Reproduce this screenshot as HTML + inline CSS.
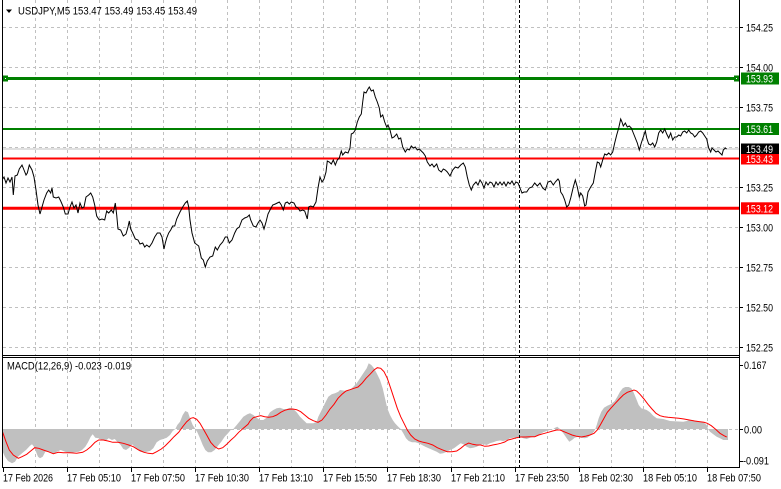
<!DOCTYPE html>
<html><head><meta charset="utf-8"><style>
html,body{margin:0;padding:0;background:#fff;}
svg{display:block;}
text{font-family:"Liberation Sans",sans-serif;font-size:11px;fill:#000;}
</style></head><body>
<svg width="781" height="489" viewBox="0 0 781 489" xmlns="http://www.w3.org/2000/svg">
<rect x="0" y="0" width="781" height="489" fill="#fff"/>
<!-- grid verticals -->
<g stroke="#c0c0c0" stroke-width="1" stroke-dasharray="3,3">
<path d="M35.5 0V355M67.5 0V355M99.5 0V355M131.5 0V355M163.5 0V355M195.5 0V355M227.5 0V355M259.5 0V355M291.5 0V355M323.5 0V355M355.5 0V355M387.5 0V355M419.5 0V355M451.5 0V355M483.5 0V355M515.5 0V355M547.5 0V355M579.5 0V355M611.5 0V355M643.5 0V355M675.5 0V355M707.5 0V355"/>
<path d="M35.5 358V467M67.5 358V467M99.5 358V467M131.5 358V467M163.5 358V467M195.5 358V467M227.5 358V467M259.5 358V467M291.5 358V467M323.5 358V467M355.5 358V467M387.5 358V467M419.5 358V467M451.5 358V467M483.5 358V467M515.5 358V467M547.5 358V467M579.5 358V467M611.5 358V467M643.5 358V467M675.5 358V467M707.5 358V467"/>
<path d="M3 27.5H739M3 67.5H739M3 107.5H739M3 147.5H739M3 187.5H739M3 227.5H739M3 267.5H739M3 307.5H739M3 347.5H739"/>
<path d="M3 429.5H739"/>
</g>
<!-- current price line -->
<path d="M3 149H739" stroke="#c0c0c0" stroke-width="1"/>
<!-- level lines -->
<path d="M3 78.5H739" stroke="#008000" stroke-width="3"/>
<path d="M3 129H739" stroke="#008000" stroke-width="2"/>
<path d="M3 158.5H739" stroke="#ff0000" stroke-width="2"/>
<path d="M3 208.3H739" stroke="#ff0000" stroke-width="3"/>
<rect x="3" y="75.5" width="5" height="6" fill="#008000"/>
<rect x="5" y="78" width="1" height="1" fill="#fff"/>
<rect x="734" y="75.5" width="5" height="6" fill="#008000"/>
<rect x="736" y="78" width="1" height="1" fill="#fff"/>
<!-- price -->
<polyline fill="none" stroke="#000" stroke-width="1" points="2.7,179 4,177 6,183 8,178 10,182 12,177 13.3,195 15,176 17.3,175 19.3,169 22,165 24,170 26,175 27.3,173 29.3,165 32,170 34,177 36,190 38,205 40,214 42,207 44,200 46.7,193 48.7,190 50.7,193 52,188 53.3,197 56,198 58.7,197 60.7,201 63.3,207 65.3,214 68,214 70,207 72,202 74,208 76,205 78,213 80,203 82,208 84,207 86,197 88.7,195 90.7,193 92.7,197 94.7,205 96.7,216 99.3,220 102,219 104.7,220 106.7,211 108.7,213 111.3,210 113.3,213 115.3,203 116.7,215 118,229 120.7,230 123.3,236 126,234 128,227 129.3,221 130.7,229 132.7,233 135.3,239 138,240 140,244 142.7,243 144.7,247 146.7,245 149.3,247 152,243 154.7,237 157.3,233 160,233 162,237 164,249 165.3,243 166.7,238 168.7,233 170.7,230 172.7,226 174.7,226 176.7,219 180,212 182.7,207 185.3,203 187.3,201 188.7,207 190,220 192,233 194.7,243 198.7,246 201.3,258 203.3,260 205.3,267 207.3,261 210,257 212.7,256 215.3,247 217.3,250 220,245 222.7,242 225.3,237 227.3,237 229.3,243 232,240 234.7,233 236.7,229 239.3,227 242,220 244.7,218 247.3,217 249.3,215 250.7,220 253.3,226 256,227 258,223 260,220 262,223 264,229 266,222 268,214 270,210 272.7,205 275.3,204 277.3,203 279.3,202 281.3,205 283.3,210 285.3,203 287.3,202 289.3,204 291.3,202 294,203 296,207 298,208 300,211 302.7,210 304.7,211 306,215 307.3,219 308.7,207 310.7,206 313.3,207 316,202 318,188 320,177 322,182 324,179 326,172 327.3,161 329.3,162 331.3,164 333.3,160 335.3,165 337.3,160 339.3,158 341.3,151 342.7,155 345.3,152 348,153 350,148 351.3,134 353.3,133 355.3,130 357.3,122 359.3,117 361.3,114 362.7,102 364,92 366,93 368,89 369.3,87 371.3,91 373.3,90 375.3,97 377.3,102 379.3,108 380.7,117 382.7,115 384.7,122 386.7,127 388,125 390,130 392,138 394,137 396.7,134 398.7,139 400.7,138 402.7,147 405.3,152 407.3,149 409.3,150 411.3,146 413.3,148 415.3,147 417.3,150 419.3,149 421.3,151 423.3,153 425.3,156 427.3,162 430,166 432,164 434,167 436.7,164 438.7,170 441.3,172 443.3,169 445.3,170 447.3,172 450,176 452.7,170 455.3,167 458,168 460.7,165 463.3,163 465.3,167 467.3,177 469.3,185 471.3,190 473.3,185 476,182 478,185 480,180 482,183 484,188 486,182 488,185 490,182 492,183 494,187 496,182 498,185 500,182 502,185 504,182 506,186 508,182 510,184 512,181 514,185 516,182 518,183 520,188 522,193 524,192 526.7,192 529.3,188 532,187 534.7,183 537.3,186 540,183 542.7,188 545.3,190 548,182 550.7,181 553.3,185 555.3,182 558,179 559.3,181 560.7,192 562.7,195 564.7,200 566.7,207 568.7,205 570.7,198 573.3,187 575.3,180 577.3,187 579.3,197 580.7,193 582.7,196 584.7,206 586,205 588,192 590.7,187 593.3,183 595.3,172 597.3,162 599.3,163 600.7,167 602.7,160 604.7,154 606.7,155 608.7,153 610.7,155 612.7,152 614.7,143 616.7,135 618.7,128 620.7,119 622,122 623.3,126 625.3,123 627.3,127 629.3,126 631.3,128 633.3,133 635.3,138 637.3,143 639.3,150 641.3,143 643.3,137 645.3,131 646.7,138 648.7,144 650.7,145 652.7,143 654.7,147 656.7,142 658.7,133 660.7,130 662.7,133 664.7,129 666.7,134 668.7,138 670.7,133 672.7,140 674.7,137 676.7,137 678.7,135 680.7,136 682.7,132 684.7,131 686.7,133 688.7,130 690.7,133 692.7,134 694.7,137 696.7,135 698.7,132 700.7,131 702.7,133 704.7,136 706.7,139 708.7,148 710.7,152 712,148 714,150 716,152 718,151 720,153 722,155 723.3,150 725.3,148 726.7,149"/>
<!-- MACD histogram -->
<polygon fill="#c0c0c0" points="2.7,429 2.7,451.7 5,456.7 8,461 12,463.3 15,461.7 18,456.7 22,453.3 26,450 30,445.7 32,444.3 34,446.7 36,451.7 38,456.7 40,458.3 42.7,456.7 45.3,451.7 50,451.7 53.3,454.3 56.7,451.7 60.7,450 65,451.7 70,453.3 74,452.3 78.7,451.7 82,450 85.3,446.7 88,442.3 90.7,436.7 92.7,434.3 95.3,437.7 98.7,438.3 102,440 105.3,441 108.7,438.3 112,440 114.7,439 117.3,441.7 120.7,445 123.3,449 126,450 129.3,447.7 132,444.3 134.7,446.7 137.3,449 140,451.7 143.3,452.3 146.7,451.7 150,451 153.3,448.3 156.7,442.3 160,440 163.3,439 166.7,437.7 170,435 172.7,431 175.3,429 177.3,425 180,421.7 182.7,415 185.3,411 188,412.3 190,418.3 192.7,425 195.3,429 197.3,432.3 200,438.3 202.7,445 205.3,450 208,452.3 211.3,452.3 214.7,450 218,445.7 221.3,441.7 224.7,436.7 228,433.3 230.7,430 233.3,429 236.7,425 240,421 243.3,416.7 247.3,414.3 250,413.3 253.3,415 256.7,417.7 260,420 263.3,420 266.7,417.7 270,412.3 273.3,410 276.7,408.3 280,407.7 283.3,409 286.7,409 290,407.7 293.3,409 296.7,412.3 300,416.7 303.3,420 306.7,423.3 313.3,423.3 316.7,421.7 318.3,416.7 321.7,410 325,403.3 328.3,396.7 331.7,394.3 335,393.3 338.3,391.7 340,390 346.7,391 350,390 353.3,386.7 356.7,383.3 360,378.3 363.3,373.3 366.7,368.3 368.7,363.3 371.3,365 374,368.3 376.7,373.3 380,380 382.7,388.3 385,398.3 387.3,408.3 390,415 392.7,420 395,423.3 398.3,426.7 400.7,429 403.3,433.3 406,438.3 408.7,441 412,442.3 415.3,442.3 418.7,443.3 422,445 425.3,446.7 428.7,448.3 432.7,450 436.7,451.7 440,453.7 443.3,453.3 446.7,451.7 450,450 454,448.3 457.3,445.7 460.7,443.3 463.3,444.3 466.7,446.7 470,448.3 473.3,447.7 476.7,446.7 480,445 483.3,444.3 486.7,445 490,443.3 493.3,442.3 496.7,441 500,440.5 503.3,441 506.7,440 510,438.3 513.3,437.7 516.7,437.7 520,436.7 523.3,438.3 526.7,439 530,437.7 533.3,436.7 536.7,435.7 540,434.3 543.3,432.3 546.7,431 550,430 553.3,429 555,427.7 557.3,426.7 560,429 563.3,433.3 566.7,438.3 569.3,441.7 572,440 574.7,437.7 578,436.7 581.3,437.7 584.7,438.3 587.3,437.7 590.7,435 594,431.7 595.3,429 596.7,425 598.7,418.3 601.3,411.7 604,407.7 607.3,405.7 610.7,404.3 614.7,401 617.3,396.7 620,391.7 622.7,388.3 625.3,387 628.7,387 631.3,388.3 633.3,391.7 636,398.3 638.7,405 641.3,408.3 646.7,410 650,412.3 653.3,415.7 656.7,418.3 663.3,419 666.7,420 670,421 683.3,421.7 686.7,421 690,420 693.3,420.3 700,421.7 703.3,422.3 706.7,425 708,429 710,431.7 713.3,434.3 716.7,436.7 720,438.3 723.3,440 728,440 728,429"/>
<!-- MACD signal -->
<polyline fill="none" stroke="#ff0000" stroke-width="1" points="2.7,432.3 6,441.7 9.3,450 13.3,455 18.3,458.3 22,456.7 26.7,454.3 30.7,451 34.7,447.7 38.7,448.3 43.3,450 48.3,451.7 53.3,453.7 58.3,452.3 63.3,452.7 70,452.7 76.7,453.3 82.7,452.3 86.7,450 90.7,446.7 95,442.3 98.7,440 103.3,440 108,441 112.7,442.3 118,442.3 123.3,443.3 128.7,445 133.3,446.7 138.7,450 144,452.3 148.3,453.3 152.7,453.7 156.7,451.7 161.3,449 165.3,445.7 170,441 174,436.7 178.7,432.3 182.7,426.7 186.7,421.7 190.7,418.3 193.3,417.7 196.7,419.3 200,423.3 203.3,429 206.7,435 210.7,442.3 214.7,446.7 218.7,449 222.7,447.7 226.7,444.3 230.7,440.3 234.7,436.7 238.7,432.3 243.3,428.3 248,424.3 250,421 253.3,417.7 256.7,416.7 260.7,415.7 264.7,416.7 268.7,417.3 272.7,416.7 276.7,415 280.7,412.3 284.7,410.3 288.7,409.3 292.7,409 296.7,409.7 300.7,411.7 304.7,415 308.7,418.3 313.3,420.7 318,422.3 322,420 326,415 330,409 334,404.3 338,398.3 342,394.3 346,391 350,389.7 354,388.3 358,387 362,383.3 366,378.3 370,374.3 374,370 377.3,367.7 380.7,368.3 384,371.7 387.3,378.3 390.7,388.3 394,398.3 397.3,408.3 400.7,416.7 404,423.3 407.3,430 410.7,435 414.7,439 418.7,441 423.3,442.3 428,443.3 432.7,445 437.3,447.7 442,449.7 447.3,451.7 452,451.7 456.7,451 460.7,448.3 464.7,445 468.7,443 472.7,444.3 476.7,445 480.7,445 484.7,446.3 488.7,446 492.7,445 496.7,444.3 500.7,443.3 504.7,442 508,440 512,439 516.7,437.7 520.7,437 525.3,437 530,436.7 534.7,436.7 538.7,435 543.3,433.7 548.3,432.3 552.7,431 556.7,430 560,430 564,431.7 568,433.3 572,435 576.7,436.3 581.3,437 585.3,436.3 590,435 594,433.3 597.3,430 600.7,424.3 604,418.3 607.3,412.3 611.3,407.7 615.3,403.3 619.3,399 623.3,395 627.3,392.3 631.3,391 634,390 636.7,391 640,394.3 644,399 648,404.3 652,409 656,413.3 660,415.7 664,416.7 668,417.3 673.3,417.7 678.7,418.3 684,419 689.3,420 694.7,421 700,421.7 704,422.3 707.3,423.3 711.3,425.7 715.3,429 720,433.3 724,435.7 726.7,437"/>
<!-- dashed black vertical -->
<path d="M519.5 0V467" stroke="#000" stroke-width="1" stroke-dasharray="3,2"/>
<!-- frame -->
<g stroke="#000" stroke-width="1" fill="none">
<path d="M2.5 0V467.5"/>
<path d="M739.5 0V467.5"/>
<path d="M2 355.5H740"/>
<path d="M2 357.5H740"/>
<path d="M2 467.5H740"/>
<path d="M740 27.5h3M740 67.5h3M740 107.5h3M740 187.5h3M740 227.5h3M740 267.5h3M740 307.5h3M740 347.5h3M740 365.5h3M740 429.5h3M740 461.5h3"/>
<path d="M3.5 468v4M67.5 468v4M131.5 468v4M195.5 468v4M259.5 468v4M323.5 468v4M387.5 468v4M451.5 468v4M515.5 468v4M579.5 468v4M643.5 468v4M707.5 468v4"/>
</g>
<!-- title -->
<path d="M6 9.5h6l-3 3.5z" fill="#000"/>
<text x="18" y="14.5" textLength="179" lengthAdjust="spacingAndGlyphs">USDJPY,M5  153.47 153.49 153.45 153.49</text>
<text x="7" y="369.5" textLength="124" lengthAdjust="spacingAndGlyphs">MACD(12,26,9) -0.023 -0.019</text>
<!-- right axis labels -->
<g>
<text x="746" y="31.5" textLength="27" lengthAdjust="spacingAndGlyphs">154.25</text>
<text x="746" y="71.5" textLength="27" lengthAdjust="spacingAndGlyphs">154.00</text>
<text x="746" y="111.5" textLength="27" lengthAdjust="spacingAndGlyphs">153.75</text>
<text x="746" y="191.5" textLength="27" lengthAdjust="spacingAndGlyphs">153.25</text>
<text x="746" y="231.5" textLength="27" lengthAdjust="spacingAndGlyphs">153.00</text>
<text x="746" y="271.5" textLength="27" lengthAdjust="spacingAndGlyphs">152.75</text>
<text x="746" y="311.5" textLength="27" lengthAdjust="spacingAndGlyphs">152.50</text>
<text x="746" y="351.5" textLength="27" lengthAdjust="spacingAndGlyphs">152.25</text>
<text x="744" y="369" textLength="22.5" lengthAdjust="spacingAndGlyphs">0.167</text>
<text x="744" y="433.5" textLength="18" lengthAdjust="spacingAndGlyphs">0.00</text>
<text x="743" y="464.5" textLength="26" lengthAdjust="spacingAndGlyphs">-0.091</text>
</g>
<!-- level boxes -->
<rect x="741" y="72.5" width="38" height="12" fill="#008000"/>
<text x="746" y="82.5" textLength="27" lengthAdjust="spacingAndGlyphs" style="fill:#fff">153.93</text>
<rect x="741" y="123" width="38" height="12" fill="#008000"/>
<text x="746" y="133" textLength="27" lengthAdjust="spacingAndGlyphs" style="fill:#fff">153.61</text>
<rect x="741" y="143.5" width="38" height="10.5" fill="#000"/>
<text x="746" y="153" textLength="27" lengthAdjust="spacingAndGlyphs" style="fill:#fff">153.49</text>
<rect x="741" y="154" width="38" height="10.5" fill="#ff0000"/>
<text x="746" y="163" textLength="27" lengthAdjust="spacingAndGlyphs" style="fill:#fff">153.43</text>
<rect x="741" y="202.3" width="38" height="12" fill="#ff0000"/>
<text x="746" y="212.3" textLength="27" lengthAdjust="spacingAndGlyphs" style="fill:#fff">153.12</text>
<!-- time labels -->
<g>
<text x="3" y="481.5" textLength="50" lengthAdjust="spacingAndGlyphs">17 Feb 2026</text>
<text x="67" y="481.5" textLength="54" lengthAdjust="spacingAndGlyphs">17 Feb 05:10</text>
<text x="131" y="481.5" textLength="54" lengthAdjust="spacingAndGlyphs">17 Feb 07:50</text>
<text x="195" y="481.5" textLength="54" lengthAdjust="spacingAndGlyphs">17 Feb 10:30</text>
<text x="259" y="481.5" textLength="54" lengthAdjust="spacingAndGlyphs">17 Feb 13:10</text>
<text x="323" y="481.5" textLength="54" lengthAdjust="spacingAndGlyphs">17 Feb 15:50</text>
<text x="387" y="481.5" textLength="54" lengthAdjust="spacingAndGlyphs">17 Feb 18:30</text>
<text x="451" y="481.5" textLength="54" lengthAdjust="spacingAndGlyphs">17 Feb 21:10</text>
<text x="515" y="481.5" textLength="54" lengthAdjust="spacingAndGlyphs">17 Feb 23:50</text>
<text x="579" y="481.5" textLength="54" lengthAdjust="spacingAndGlyphs">18 Feb 02:30</text>
<text x="643" y="481.5" textLength="54" lengthAdjust="spacingAndGlyphs">18 Feb 05:10</text>
<text x="707" y="481.5" textLength="54" lengthAdjust="spacingAndGlyphs">18 Feb 07:50</text>
</g>
</svg>
</body></html>
